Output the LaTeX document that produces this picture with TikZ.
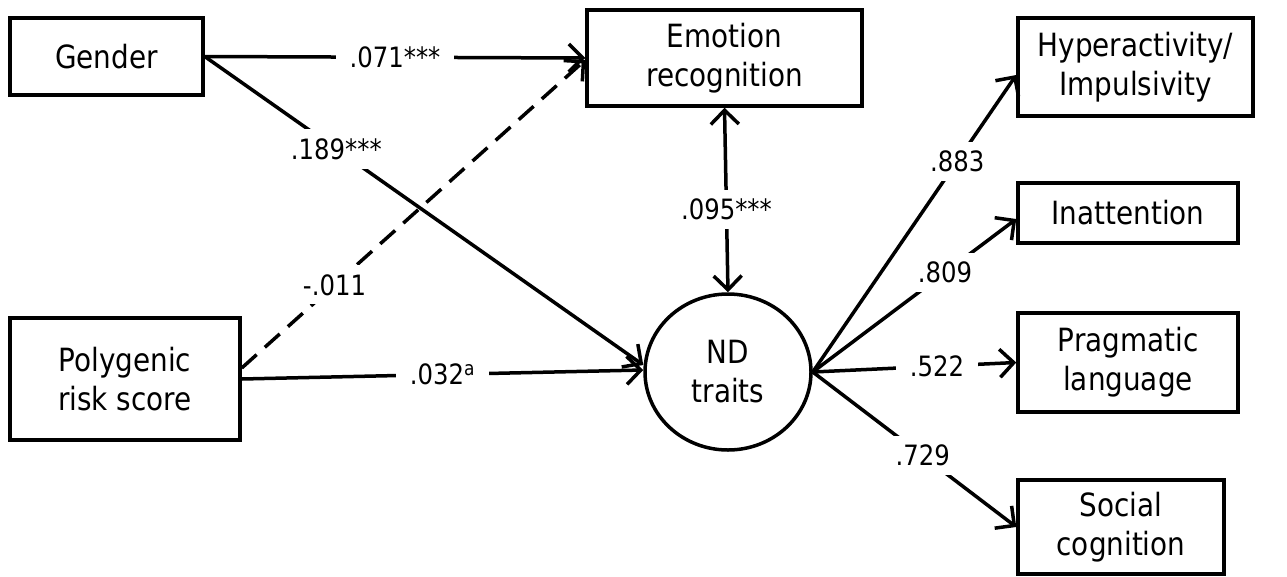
\documentclass[tikz,border=0pt]{standalone}
\usepackage{fontspec}
\setmainfont[FakeStretch=0.87]{DejaVu Sans}
\usetikzlibrary{arrows.meta,shapes.geometric}
\tikzset{
  box/.style={draw,line width=3.5pt,inner sep=0pt,align=center,font=\fontsize{32}{39}\selectfont},
  latent/.style={draw,ellipse,line width=3.5pt,inner sep=0pt,align=center,font=\fontsize{32}{39}\selectfont,minimum width=166pt,minimum height=156pt},
  lbl/.style={fill=white,inner xsep=14pt,inner ysep=9pt,font=\fontsize{28}{30}\selectfont},
  >={Straight Barb[length=14pt,width=28pt,line width=3.5pt]},
  arr/.style={line width=3.5pt,->},
  dasharr/.style={arr,dash pattern=on 20pt off 11pt},
  dbl/.style={line width=3.5pt,<->}
}
\begin{document}
\begin{tikzpicture}[x=1pt,y=-1pt]
\useasboundingbox (0,0) rectangle (1287,576);
\node[box,minimum width=193pt,minimum height=77pt] (gender) at (106.5,56.5) {Gender};
\node[box,minimum width=275pt,minimum height=96pt] (emo) at (724.5,58) {Emotion\\recognition};
\node[box,minimum width=230pt,minimum height=122pt] (poly) at (125,379) {Polygenic\\risk score};
\node[latent] (nd) at (728,372) {ND\\traits};
\node[box,minimum width=235pt,minimum height=98pt] (hyp) at (1135.5,67) {Hyperactivity/\\Impulsivity};
\node[box,minimum width=220pt,minimum height=60pt] (inatt) at (1128,213) {Inattention};
\node[box,minimum width=220pt,minimum height=99pt] (prag) at (1128,362.5) {Pragmatic\\language};
\node[box,minimum width=206pt,minimum height=94pt] (soc) at (1121,527) {Social\\cognition};

\draw[arr] (gender.east) -- (emo.west) node[lbl,pos=0.5] {.071***};
\draw[arr] (gender.east) -- ([yshift=7pt]nd.west) node[lbl,pos=0.3] {.189***};
\draw[dasharr] ([yshift=11pt]poly.east) -- ([yshift=-2pt]emo.west) node[lbl,pos=0.27] {-.011};
\draw[arr] (poly.east) -- ([yshift=2pt]nd.west) node[lbl,pos=0.5] {.032\textsuperscript{a}};
\draw[dbl] (emo.south) -- (nd.north) node[lbl,pos=0.55] {.095***};
\draw[arr] (nd.east) -- ([yshift=-8pt]hyp.west) node[lbl,pos=0.71] {.883};
\draw[arr] (nd.east) -- ([yshift=-6pt]inatt.west) node[lbl,pos=0.65] {.809};
\draw[arr] (nd.east) -- (prag.west) node[lbl,pos=0.61] {.522};
\draw[arr] (nd.east) -- (soc.west) node[lbl,pos=0.54] {.729};
\end{tikzpicture}
\end{document}
